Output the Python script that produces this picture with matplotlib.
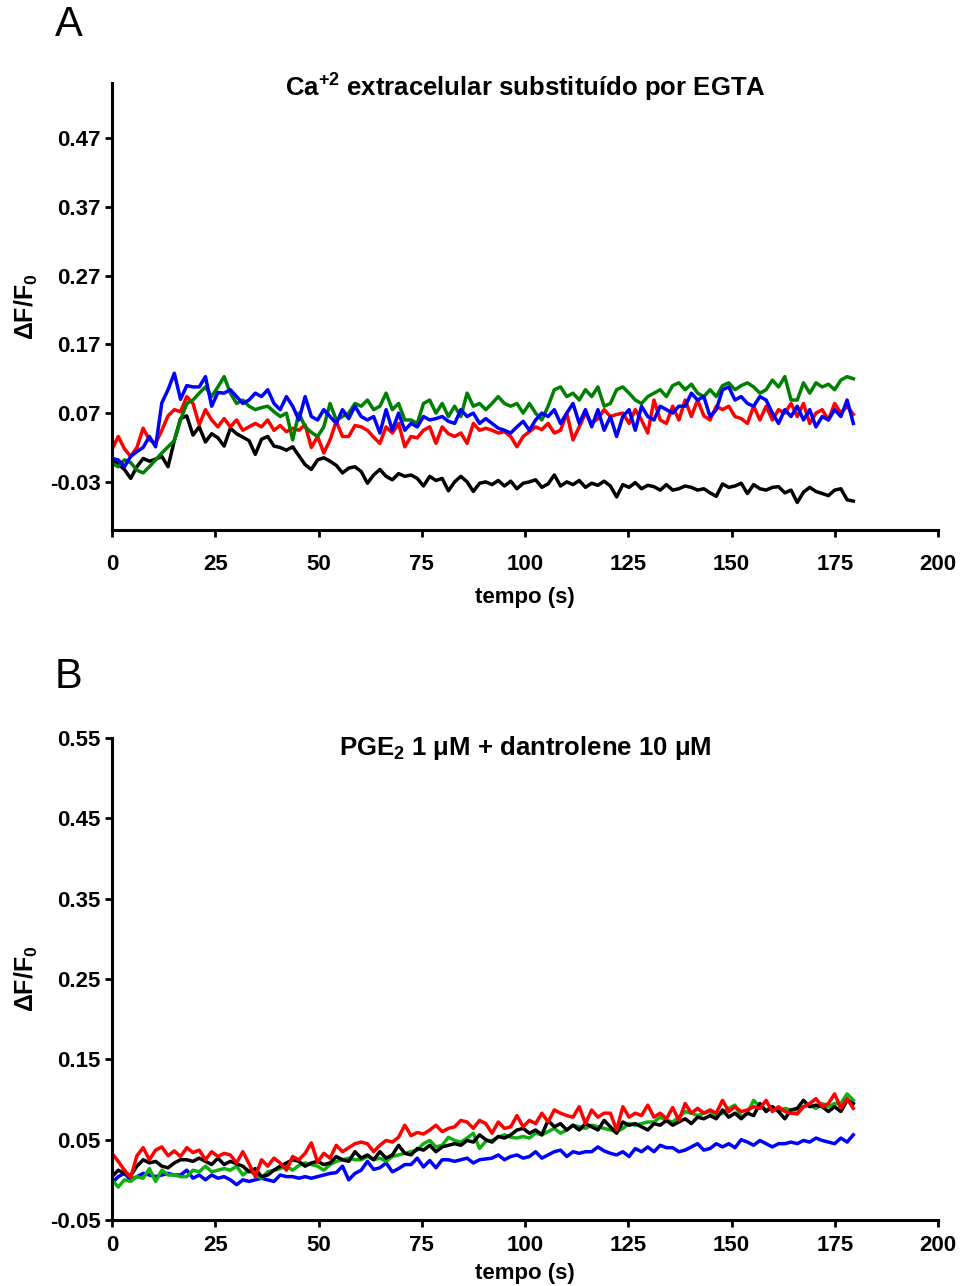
import matplotlib
matplotlib.use("Agg")
import matplotlib.pyplot as plt
import numpy as np

# ---------------------------------------------------------------------------
# data (dF/F0 traces, 120 samples over 0-179.5 s)
# ---------------------------------------------------------------------------
t_start, t_end, n_pts = 0.0, 179.5, 120

# Panel A: Ca+2 extracelular substituido por EGTA
black_a = [0.002, -0.004, -0.012, -0.025, -0.008, 0.004, 0.000, 0.003, 0.007, -0.008,
           0.030, 0.062, 0.066, 0.038, 0.050, 0.028, 0.040, 0.034, 0.022, 0.048,
           0.040, 0.035, 0.030, 0.010, 0.032, 0.036, 0.022, 0.020, 0.016, 0.021,
           0.008, -0.005, -0.012, 0.002, 0.005, 0.000, -0.006, -0.017, -0.010, -0.008,
           -0.015, -0.032, -0.020, -0.012, -0.022, -0.027, -0.018, -0.022, -0.020, -0.025,
           -0.036, -0.022, -0.028, -0.025, -0.043, -0.030, -0.022, -0.030, -0.044, -0.032,
           -0.030, -0.034, -0.028, -0.036, -0.029, -0.040, -0.032, -0.030, -0.027, -0.038,
           -0.033, -0.020, -0.036, -0.030, -0.034, -0.028, -0.038, -0.032, -0.035, -0.029,
           -0.036, -0.052, -0.034, -0.038, -0.031, -0.040, -0.035, -0.037, -0.042, -0.034,
           -0.042, -0.040, -0.036, -0.038, -0.042, -0.040, -0.046, -0.051, -0.033, -0.038,
           -0.036, -0.032, -0.047, -0.034, -0.040, -0.042, -0.038, -0.037, -0.046, -0.042,
           -0.060, -0.045, -0.038, -0.044, -0.047, -0.050, -0.042, -0.040, -0.056, -0.058]
red_a = [0.017, 0.036, 0.018, 0.007, 0.020, 0.048, 0.031, 0.026, 0.045, 0.066,
         0.075, 0.072, 0.094, 0.084, 0.053, 0.075, 0.060, 0.050, 0.062, 0.050,
         0.060, 0.045, 0.050, 0.055, 0.050, 0.060, 0.045, 0.052, 0.043, 0.048,
         0.045, 0.053, 0.020, 0.036, 0.012, 0.031, 0.058, 0.036, 0.036, 0.052,
         0.050, 0.045, 0.035, 0.026, 0.050, 0.041, 0.055, 0.021, 0.036, 0.034,
         0.045, 0.050, 0.026, 0.050, 0.040, 0.036, 0.041, 0.026, 0.055, 0.045,
         0.048, 0.045, 0.041, 0.043, 0.036, 0.021, 0.036, 0.043, 0.050, 0.046,
         0.055, 0.041, 0.045, 0.070, 0.031, 0.050, 0.070, 0.055, 0.062, 0.075,
         0.065, 0.068, 0.070, 0.055, 0.075, 0.060, 0.041, 0.089, 0.060, 0.055,
         0.080, 0.060, 0.089, 0.065, 0.089, 0.066, 0.060, 0.080, 0.075, 0.080,
         0.065, 0.062, 0.055, 0.080, 0.060, 0.080, 0.060, 0.075, 0.070, 0.084,
         0.065, 0.084, 0.055, 0.070, 0.075, 0.060, 0.084, 0.070, 0.080, 0.068]
green_a = [-0.003, -0.008, 0.002, -0.002, -0.013, -0.017, -0.008, 0.002, 0.012, 0.021,
           0.030, 0.060, 0.084, 0.089, 0.099, 0.108, 0.094, 0.108, 0.123, 0.099,
           0.084, 0.089, 0.080, 0.075, 0.078, 0.080, 0.072, 0.065, 0.070, 0.031,
           0.070, 0.050, 0.042, 0.036, 0.050, 0.084, 0.060, 0.065, 0.070, 0.084,
           0.080, 0.089, 0.075, 0.080, 0.099, 0.075, 0.084, 0.060, 0.060, 0.055,
           0.084, 0.089, 0.070, 0.084, 0.065, 0.080, 0.065, 0.099, 0.080, 0.084,
           0.075, 0.084, 0.094, 0.084, 0.080, 0.084, 0.070, 0.084, 0.070, 0.060,
           0.080, 0.104, 0.108, 0.094, 0.099, 0.089, 0.104, 0.094, 0.108, 0.080,
           0.084, 0.104, 0.108, 0.099, 0.089, 0.084, 0.094, 0.099, 0.104, 0.094,
           0.110, 0.114, 0.104, 0.112, 0.099, 0.094, 0.104, 0.094, 0.110, 0.114,
           0.104, 0.110, 0.114, 0.108, 0.099, 0.104, 0.118, 0.108, 0.123, 0.089,
           0.089, 0.114, 0.099, 0.114, 0.108, 0.112, 0.104, 0.118, 0.123, 0.120]
blue_a = [0.004, 0.002, -0.008, 0.007, 0.014, 0.020, 0.036, 0.021, 0.085, 0.104,
          0.128, 0.090, 0.110, 0.108, 0.108, 0.123, 0.080, 0.100, 0.099, 0.104,
          0.094, 0.084, 0.089, 0.099, 0.094, 0.104, 0.084, 0.075, 0.094, 0.080,
          0.060, 0.094, 0.065, 0.060, 0.075, 0.065, 0.055, 0.075, 0.062, 0.080,
          0.065, 0.060, 0.065, 0.041, 0.075, 0.045, 0.070, 0.045, 0.055, 0.050,
          0.065, 0.060, 0.062, 0.065, 0.058, 0.055, 0.075, 0.065, 0.070, 0.055,
          0.062, 0.055, 0.048, 0.045, 0.041, 0.050, 0.058, 0.045, 0.060, 0.070,
          0.065, 0.075, 0.055, 0.070, 0.084, 0.055, 0.075, 0.050, 0.075, 0.045,
          0.065, 0.036, 0.065, 0.075, 0.045, 0.080, 0.065, 0.060, 0.080, 0.075,
          0.070, 0.080, 0.080, 0.099, 0.089, 0.094, 0.065, 0.075, 0.104, 0.108,
          0.089, 0.094, 0.084, 0.080, 0.094, 0.089, 0.070, 0.055, 0.075, 0.065,
          0.080, 0.060, 0.075, 0.050, 0.065, 0.060, 0.075, 0.065, 0.089, 0.055]

# Panel B: PGE2 1 uM + dantrolene 10 uM
red_b = [0.033, 0.023, 0.012, 0.003, 0.030, 0.040, 0.025, 0.037, 0.041, 0.030,
         0.036, 0.029, 0.040, 0.034, 0.037, 0.025, 0.035, 0.029, 0.033, 0.031,
         0.021, 0.035, 0.020, 0.004, 0.025, 0.017, 0.027, 0.021, 0.012, 0.029,
         0.025, 0.033, 0.046, 0.022, 0.033, 0.027, 0.043, 0.035, 0.040, 0.045,
         0.047, 0.045, 0.035, 0.043, 0.049, 0.047, 0.053, 0.068, 0.055, 0.059,
         0.057, 0.062, 0.068, 0.060, 0.064, 0.066, 0.074, 0.072, 0.064, 0.074,
         0.070, 0.058, 0.072, 0.064, 0.066, 0.080, 0.066, 0.074, 0.070, 0.083,
         0.072, 0.087, 0.083, 0.080, 0.078, 0.091, 0.070, 0.087, 0.078, 0.083,
         0.083, 0.062, 0.091, 0.078, 0.083, 0.080, 0.093, 0.078, 0.083, 0.076,
         0.090, 0.074, 0.095, 0.083, 0.089, 0.083, 0.087, 0.083, 0.099, 0.085,
         0.091, 0.085, 0.087, 0.091, 0.089, 0.099, 0.085, 0.091, 0.085, 0.083,
         0.082, 0.091, 0.095, 0.101, 0.091, 0.095, 0.107, 0.089, 0.101, 0.089]
black_b = [0.004, 0.012, 0.008, 0.005, 0.017, 0.025, 0.021, 0.023, 0.017, 0.015,
           0.021, 0.025, 0.025, 0.023, 0.027, 0.023, 0.019, 0.027, 0.019, 0.023,
           0.020, 0.017, 0.010, 0.014, 0.004, 0.006, 0.012, 0.017, 0.021, 0.025,
           0.023, 0.017, 0.021, 0.023, 0.019, 0.021, 0.029, 0.025, 0.023, 0.035,
           0.027, 0.031, 0.025, 0.035, 0.027, 0.031, 0.043, 0.033, 0.031, 0.039,
           0.037, 0.043, 0.035, 0.041, 0.043, 0.045, 0.043, 0.049, 0.047, 0.056,
           0.050, 0.047, 0.054, 0.052, 0.056, 0.062, 0.064, 0.058, 0.062, 0.056,
           0.074, 0.066, 0.070, 0.062, 0.068, 0.062, 0.070, 0.066, 0.062, 0.074,
           0.066, 0.058, 0.072, 0.068, 0.070, 0.066, 0.062, 0.070, 0.068, 0.074,
           0.068, 0.072, 0.076, 0.070, 0.078, 0.076, 0.080, 0.076, 0.087, 0.078,
           0.083, 0.076, 0.083, 0.080, 0.095, 0.085, 0.091, 0.085, 0.076, 0.087,
           0.089, 0.099, 0.091, 0.093, 0.091, 0.085, 0.091, 0.085, 0.099, 0.095]
green_b = [0.000, -0.009, 0.000, -0.002, 0.004, 0.002, 0.014, -0.002, 0.012, 0.006,
           0.006, 0.004, 0.004, 0.012, 0.010, 0.017, 0.010, 0.012, 0.014, 0.012,
           0.017, 0.006, 0.012, 0.006, 0.002, 0.010, 0.012, 0.014, 0.017, 0.012,
           0.018, 0.021, 0.019, 0.017, 0.012, 0.019, 0.023, 0.025, 0.027, 0.025,
           0.025, 0.029, 0.025, 0.027, 0.023, 0.029, 0.031, 0.033, 0.035, 0.037,
           0.045, 0.049, 0.041, 0.043, 0.053, 0.049, 0.047, 0.052, 0.058, 0.039,
           0.048, 0.049, 0.053, 0.056, 0.053, 0.052, 0.054, 0.052, 0.058, 0.056,
           0.060, 0.064, 0.058, 0.062, 0.068, 0.066, 0.064, 0.068, 0.066, 0.064,
           0.062, 0.060, 0.064, 0.070, 0.068, 0.070, 0.072, 0.072, 0.078, 0.074,
           0.072, 0.078, 0.085, 0.083, 0.080, 0.083, 0.085, 0.080, 0.083, 0.089,
           0.093, 0.078, 0.083, 0.099, 0.091, 0.087, 0.091, 0.085, 0.089, 0.087,
           0.087, 0.091, 0.093, 0.089, 0.095, 0.091, 0.095, 0.095, 0.107, 0.099]
blue_b = [-0.004, 0.004, 0.008, 0.000, 0.004, 0.008, 0.006, 0.004, 0.006, 0.008,
          0.006, 0.006, 0.012, 0.002, 0.006, 0.000, 0.006, 0.002, 0.004, 0.000,
          -0.006, 0.000, -0.002, 0.000, 0.002, 0.000, -0.002, 0.006, 0.004, 0.004,
          0.002, 0.004, 0.002, 0.004, 0.006, 0.008, 0.009, 0.017, 0.000, 0.008,
          0.012, 0.023, 0.013, 0.015, 0.021, 0.010, 0.014, 0.019, 0.019, 0.027,
          0.016, 0.024, 0.015, 0.025, 0.025, 0.023, 0.025, 0.027, 0.021, 0.025,
          0.026, 0.027, 0.031, 0.025, 0.029, 0.031, 0.027, 0.029, 0.035, 0.027,
          0.031, 0.035, 0.037, 0.029, 0.035, 0.033, 0.035, 0.035, 0.041, 0.036,
          0.033, 0.031, 0.035, 0.029, 0.039, 0.035, 0.041, 0.035, 0.043, 0.040,
          0.040, 0.035, 0.037, 0.041, 0.045, 0.037, 0.039, 0.045, 0.041, 0.045,
          0.040, 0.050, 0.047, 0.043, 0.049, 0.045, 0.041, 0.045, 0.045, 0.047,
          0.045, 0.049, 0.047, 0.052, 0.049, 0.047, 0.045, 0.052, 0.047, 0.056]

x_ticks = [0, 25, 50, 75, 100, 125, 150, 175, 200]
y_ticks_a = [-0.03, 0.07, 0.17, 0.27, 0.37, 0.47]
y_ticks_b = [-0.05, 0.05, 0.15, 0.25, 0.35, 0.45, 0.55]

title_a = 'Ca$^{+2}$ extracelular substituído por EGTA'
title_b = 'PGE$_2$ 1 μM + dantrolene 10 μM'

# ---------------------------------------------------------------------------
# style
# ---------------------------------------------------------------------------
plt.rcParams['font.family'] = ['Liberation Sans', 'DejaVu Sans']
plt.rcParams['font.weight'] = 'bold'
plt.rcParams['mathtext.fontset'] = 'custom'
plt.rcParams['mathtext.rm'] = 'Liberation Sans:bold'
plt.rcParams['mathtext.it'] = 'Liberation Sans:bold'
plt.rcParams['mathtext.bf'] = 'Liberation Sans:bold'
plt.rcParams['mathtext.default'] = 'rm'

GREEN_A = '#008000'
GREEN_B = '#10b010'
LW = 2.5

W, H = 962, 1286
fig = plt.figure(figsize=(W / 100, H / 100), dpi=100)
fig.patch.set_facecolor('white')

t = np.linspace(t_start, t_end, n_pts)


def setup_axes(ax, ylim, yticks, title, title_y, xpad, xlabelpad):
    ax.set_xlim(0, 200)
    ax.set_ylim(*ylim)
    ax.set_xticks(x_ticks)
    ax.set_yticks(yticks)
    ax.set_yticklabels(['%.2f' % v for v in yticks])
    for side in ['top', 'right']:
        ax.spines[side].set_visible(False)
    for side in ['left', 'bottom']:
        ax.spines[side].set_linewidth(2.2)
        ax.spines[side].set_color('black')
    ax.tick_params(axis='both', direction='out', length=5, width=2.0,
                   labelsize=16, colors='black')
    ax.tick_params(axis='x', pad=xpad)
    ax.tick_params(axis='y', pad=3)
    ax.set_xlabel('tempo (s)', fontsize=16, fontweight='bold',
                  labelpad=xlabelpad)
    ax.set_ylabel('ΔF/F$_0$', fontsize=18, fontweight='bold', labelpad=7)
    ax.text(0.5, title_y, title, transform=ax.transAxes, ha='center',
            va='center', fontsize=18.5, fontweight='bold')


# panel A
ax_a = fig.add_axes([112 / W, 1 - 530 / H, 826 / W, 447 / H])
ax_a.plot(t, black_a, color='black', lw=LW)
ax_a.plot(t, red_a, color='#ff0000', lw=LW)
ax_a.plot(t, green_a, color=GREEN_A, lw=LW)
ax_a.plot(t, blue_a, color='#0000ff', lw=LW)
setup_axes(ax_a, (-0.1, 0.55), y_ticks_a, title_a, 0.99, 12, 9)

# panel B
ax_b = fig.add_axes([112 / W, 1 - 1220 / H, 826 / W, 482 / H])
ax_b.plot(t, blue_b, color='#0000ff', lw=LW)
ax_b.plot(t, green_b, color=GREEN_B, lw=LW)
ax_b.plot(t, black_b, color='black', lw=LW)
ax_b.plot(t, red_b, color='#ff0000', lw=LW)
setup_axes(ax_b, (-0.05, 0.55), y_ticks_b, title_b, 0.98, 5.5, 5)

# panel letters
fig.text(69 / W, 1 - 25 / H, 'A', ha='center', va='center', fontsize=30,
         fontweight='normal')
fig.text(69 / W, 1 - 677 / H, 'B', ha='center', va='center', fontsize=30,
         fontweight='normal')

fig.savefig('out.png', dpi=100, facecolor='white')
